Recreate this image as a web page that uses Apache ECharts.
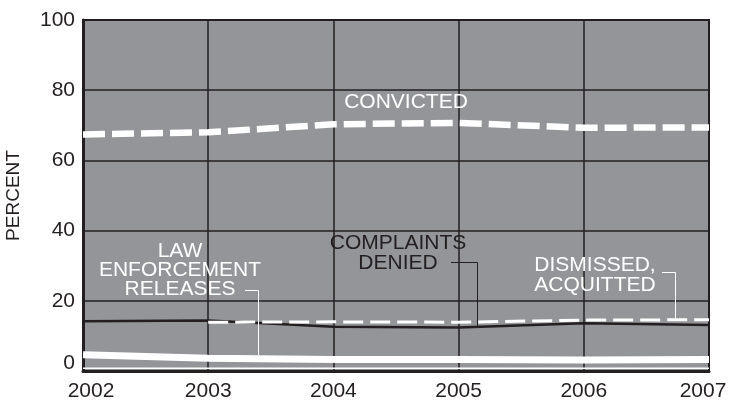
<!DOCTYPE html>
<html>
<head>
<meta charset="utf-8">
<script src="https://cdn.jsdelivr.net/npm/echarts@6/dist/echarts.min.js"></script>
<style>
  html, body { margin: 0; padding: 0; background: #ffffff; }
  #chart { width: 729px; height: 403px; }
</style>
</head>
<body>
<div id="chart"></div>
<script>
// Outcome shares by year, in percent
const years = [2002, 2003, 2004, 2005, 2006, 2007];
const convicted = [67.4, 68.0, 70.3, 70.7, 69.3, 69.4];
const complaintsDenied = [14.2, 14.4, 12.6, 12.4, 13.6, 13.1];
const dismissedAcquitted = [null, 13.9, 14.0, 13.9, 14.5, 14.6];
const lawEnforcementReleases = [4.6, 3.6, 3.3, 3.3, 3.1, 3.3];
const otherOutcomes = [0.8, 0.8, 0.8, 0.8, 0.8, 0.8];
const yTicks = [0, 20, 40, 60, 80, 100];

const INK = '#231f20';
const FONT = '"Liberation Sans", Arial, Helvetica, sans-serif';

function pairs(vals) {
  return years.map((y, i) => [y, vals[i]]);
}

const chart = echarts.init(document.getElementById('chart'), null, { renderer: 'canvas' });

chart.setOption({
  animation: false,
  backgroundColor: '#ffffff',
  grid: {
    left: 83, right: 20, top: 20, bottom: 32,
    containLabel: false,
    outerBoundsMode: 'none',
    show: true,
    backgroundColor: '#939598',
    borderColor: INK,
    borderWidth: 2
  },
  xAxis: {
    type: 'value',
    min: years[0],
    max: years[years.length - 1],
    interval: 1,
    axisLine: { show: true, onZero: false, lineStyle: { color: INK, width: 3 } },
    axisTick: { show: false },
    splitLine: { show: true, lineStyle: { color: INK, width: 1.5 } },
    axisLabel: {
      color: INK, fontSize: 21, fontFamily: FONT, margin: 10,
      formatter: function (v) {
        if (v === years[0]) return '{first|' + v + '}';
        if (v === years[years.length - 1]) return '{last|' + v + '}';
        return String(v);
      },
      rich: {
        first: { fontSize: 21, fontFamily: FONT, color: INK, padding: [0, 0, 0, 16] },
        last: { fontSize: 21, fontFamily: FONT, color: INK, padding: [0, 12, 0, 0] }
      }
    }
  },
  yAxis: {
    type: 'value',
    min: yTicks[0],
    max: yTicks[yTicks.length - 1],
    interval: 20,
    name: 'PERCENT',
    nameLocation: 'middle',
    nameRotate: 90,
    nameGap: 60,
    nameTextStyle: { color: INK, fontSize: 19, fontFamily: FONT },
    axisLine: { show: true, lineStyle: { color: INK, width: 3 } },
    axisTick: { show: false },
    splitLine: { show: true, lineStyle: { color: INK, width: 1.5 } },
    axisLabel: {
      color: INK, fontSize: 21, fontFamily: FONT, margin: 8,
      formatter: function (v) {
        return v === yTicks[0] ? '{lift|' + v + '}' : String(v);
      },
      rich: {
        lift: { fontSize: 21, fontFamily: FONT, color: INK, padding: [0, 0, 16, 0] }
      }
    }
  },
  series: [
    {
      name: 'Other', type: 'line', data: pairs(otherOutcomes),
      showSymbol: false, silent: true, z: 2,
      lineStyle: { color: '#ffffff', width: 1.5 }
    },
    {
      name: 'Law enforcement releases', type: 'line', data: pairs(lawEnforcementReleases),
      showSymbol: false, silent: true, z: 3,
      lineStyle: { color: '#ffffff', width: 7 }
    },
    {
      name: 'Complaints denied', type: 'line', data: pairs(complaintsDenied),
      showSymbol: false, silent: true, z: 4,
      lineStyle: { color: INK, width: 2.5 }
    },
    {
      name: 'Dismissed, acquitted', type: 'line', data: pairs(dismissedAcquitted),
      showSymbol: false, silent: true, z: 5, connectNulls: false,
      lineStyle: { color: '#ffffff', width: 3, type: [20, 7], cap: 'butt' }
    },
    {
      name: 'Convicted', type: 'line', data: pairs(convicted),
      showSymbol: false, silent: true, z: 6,
      lineStyle: { color: '#ffffff', width: 6.5, type: [22, 7], cap: 'butt' }
    }
  ],
  graphic: [
    {
      type: 'text', x: 406, y: 102, z: 10,
      style: { text: 'CONVICTED', fill: '#ffffff', font: '21px ' + FONT, textAlign: 'center', textVerticalAlign: 'middle' }
    },
    {
      type: 'text', x: 180, y: 242, z: 10,
      style: { text: 'LAW\nENFORCEMENT\nRELEASES', fill: '#ffffff', font: '21px ' + FONT, textAlign: 'center', textVerticalAlign: 'top', lineHeight: 19 }
    },
    {
      type: 'polyline', z: 10,
      shape: { points: [[245, 290.5], [258.5, 290.5], [258.5, 355]] },
      style: { stroke: '#ffffff', lineWidth: 1, fill: null }
    },
    {
      type: 'text', x: 398, y: 233, z: 10,
      style: { text: 'COMPLAINTS\nDENIED', fill: INK, font: '21px ' + FONT, textAlign: 'center', textVerticalAlign: 'top', lineHeight: 20 }
    },
    {
      type: 'polyline', z: 10,
      shape: { points: [[451, 262.5], [477.5, 262.5], [477.5, 327]] },
      style: { stroke: INK, lineWidth: 1, fill: null }
    },
    {
      type: 'text', x: 595, y: 255, z: 10,
      style: { text: 'DISMISSED,\nACQUITTED', fill: '#ffffff', font: '21px ' + FONT, textAlign: 'center', textVerticalAlign: 'top', lineHeight: 20 }
    },
    {
      type: 'polyline', z: 10,
      shape: { points: [[662, 272.5], [675.5, 272.5], [675.5, 319]] },
      style: { stroke: '#ffffff', lineWidth: 1, fill: null }
    }
  ]
});
</script>
</body>
</html>
